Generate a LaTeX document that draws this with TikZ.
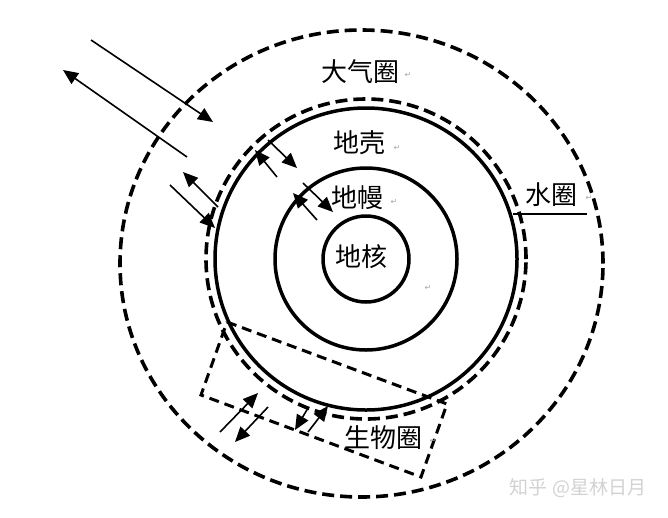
\documentclass[tikz,border=0pt]{standalone}
\usepackage{fontspec}
\usepackage{xcolor}
\usepackage{tikz}
\usetikzlibrary{arrows.meta}
\newfontfamily\cjk{Noto Sans CJK SC}
\newfontfamily\symfont{DejaVu Sans}

\begin{document}
\begin{tikzpicture}[x=1pt, y=-1pt,
  ring/.style={line width=3.5pt},
  dashring/.style={line width=3.6pt, dash pattern=on 12pt off 6pt},
  biobox/.style={line width=3pt, dash pattern=on 10pt off 6pt},
  flow/.style={line width=1.6pt, -{Triangle[length=15pt, width=13pt]}},
  lab/.style={font=\cjk\fontsize{26}{26}\selectfont},
  ret/.style={font=\symfont\fontsize{8}{8}\selectfont, text=gray!70, inner sep=0pt}]
\useasboundingbox (0,0) rectangle (668,517);
\def\cx{366}
\def\cy{259}
% solid layers: core, mantle, crust
\foreach \r in {43,91,151}
  \draw[ring] (\cx,\cy) circle (\r pt);
% hydrosphere and atmosphere
\draw[dashring] (\cx,\cy) circle (160pt);
\draw[dashring] (361.5,263.5) ellipse [x radius=241.5pt, y radius=233.5pt];
% biosphere
\draw[biobox] (227,322) -- (447,404) -- (421,477) -- (201,395) -- cycle;
% exchanges with the atmosphere
\draw[flow] (91,40) -- (213,122);
\draw[flow] (187,157) -- (63,70);
\draw[flow] (218,207) -- (183,172);
\draw[flow] (170,185) -- (215,228);
% exchanges with crust and mantle
\draw[flow] (268,140) -- (297,168);
\draw[flow] (277,177) -- (255,150);
\draw[flow] (303,183) -- (333,212);
\draw[flow] (317,220) -- (293,193);
% exchanges with the biosphere
\draw[flow] (220,432) -- (258,393);
\draw[flow] (268,407) -- (235,442);
\draw[flow] (308,408) -- (295,430);
\draw[flow] (308,432) -- (328,406);
% water line
\draw[line width=1.6pt] (513,214) -- (587,214);
% labels
\node[lab] (atmo) at (360,72) {大气圈};
\node[lab] (crust) at (359,143) {地壳};
\node[lab] (mantle) at (357,198) {地幔};
\node[lab] (core) at (361,257) {地核};
\node[lab] (hydro) at (551,195) {水圈};
\node[lab] (bio) at (383,438) {生物圈};
\node[ret] at (408,75) {↵};
\node[ret] at (397,148) {↵};
\node[ret] at (394,202) {↵};
\node[ret] at (589,198) {↵};
\node[ret] at (428,288) {↵};
\node[ret] at (433,441) {↵};
% watermark
\node[font=\cjk\fontsize{19}{19}\selectfont, text=gray!35] (mark) at (578,488) {知乎 @星林日月};
\end{tikzpicture}
\end{document}
